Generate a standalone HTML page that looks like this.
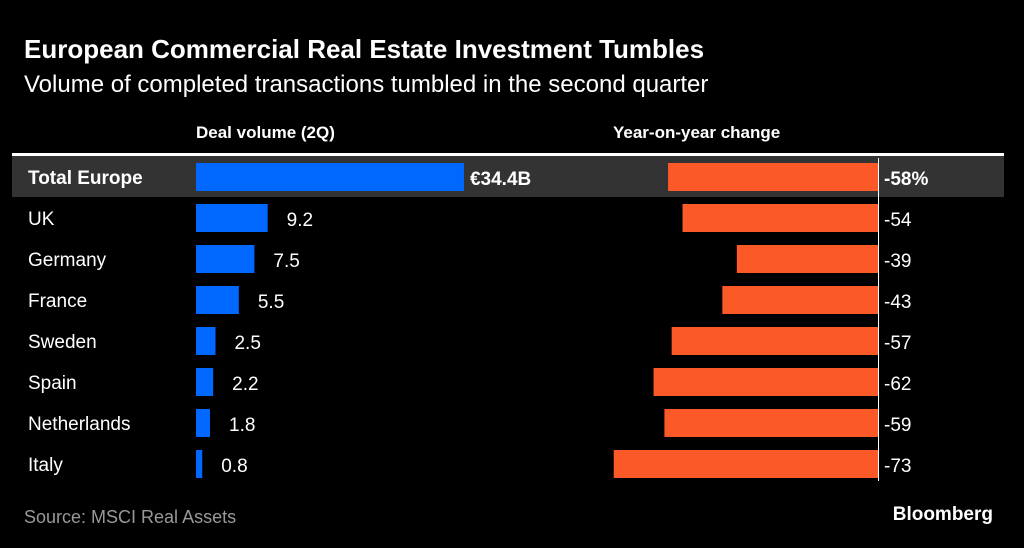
<!DOCTYPE html>
<html><head><meta charset="utf-8"><style>
html,body{margin:0;padding:0;background:#000;}
svg{display:block;font-family:"Liberation Sans",sans-serif;}
</style></head><body>
<svg id="c" width="1024" height="548" viewBox="0 0 1024 548">
<rect width="1024" height="548" fill="#000"/>
<text x="24" y="58" fill="#fff" font-size="26" font-weight="bold">European Commercial Real Estate Investment Tumbles</text>
<text x="24" y="92" fill="#fff" font-size="24">Volume of completed transactions tumbled in the second quarter</text>
<text x="196" y="138" fill="#fff" font-size="17" font-weight="bold">Deal volume (2Q)</text>
<text x="613" y="138" fill="#fff" font-size="17" font-weight="bold">Year-on-year change</text>
<rect x="12" y="153" width="992" height="3" fill="#fff"/>
<rect x="12" y="156" width="992" height="41" fill="#333"/>
<g id="rows"></g>
<text x="24" y="523" fill="#999" font-size="18">Source: MSCI Real Assets</text>
<text x="993" y="520" fill="#fff" font-size="19" font-weight="bold" text-anchor="end">Bloomberg</text>
</svg>
<script>
const categories=["Total Europe","UK","Germany","France","Sweden","Spain","Netherlands","Italy"];
const volumes=[34.4,9.2,7.5,5.5,2.5,2.2,1.8,0.8];
const changes=[-58,-54,-39,-43,-57,-62,-59,-73];
const volLabels=["€34.4B","9.2","7.5","5.5","2.5","2.2","1.8","0.8"];
const chgLabels=["-58%","-54","-39","-43","-57","-62","-59","-73"];
const NS="http://www.w3.org/2000/svg";
const g=document.getElementById('rows');
const xV=v=>196+v*7.79;
const xC=v=>878+v*3.62;
const yRow=i=>177+i*41;
function mk(t,a){const e=document.createElementNS(NS,t);for(const k in a)e.setAttribute(k,a[k]);g.appendChild(e);return e;}
categories.forEach((c,i)=>{
  const y=yRow(i),b=i===0;
  let t=mk('text',{x:28,y:y+7,fill:'#fff','font-size':19,'font-weight':b?'bold':'normal'});t.textContent=c;
  
  
  let r=mk('rect',{x:196,y:y-14,width:xV(volumes[i])-196,height:28,fill:'#0068ff'});
  
  
  t=mk('text',{x:xV(volumes[i])+(b?6:19),y:y+8,fill:'#fff','font-size':19,'font-weight':b?'bold':'normal'});t.textContent=volLabels[i];
  
  
  const x0=xC(changes[i]);
  r=mk('rect',{x:x0,y:y-14,width:878-x0,height:28,fill:'#fb5a28'});
  
  
  t=mk('text',{x:884,y:y+8,fill:'#fff','font-size':19,'font-weight':b?'bold':'normal'});t.textContent=chgLabels[i];
  
  
});
const ln=mk('line',{x1:878.5,x2:878.5,y1:158,y2:481,stroke:'#fff','stroke-width':1});


</script>
</body></html>
